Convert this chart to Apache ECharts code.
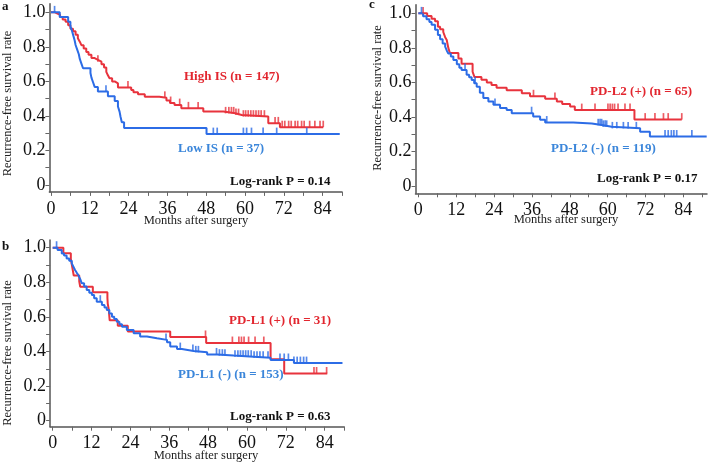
<!DOCTYPE html>
<html>
<head>
<meta charset="utf-8">
<script src="https://cdn.jsdelivr.net/npm/echarts@6/dist/echarts.min.js"></script>
<style>
  html, body { margin: 0; padding: 0; background: #fff; }
  #chart { width: 709px; height: 465px; }
</style>
</head>
<body>
<div id="chart"></div>
<script>
// Trục
const xTickVals = [0, 6, 12, 18, 24, 30, 36, 42, 48, 54, 60, 66, 72, 78, 84, 90];
const xLabelVals = [0, 12, 24, 36, 48, 60, 72, 84];
const yTickVals = [0, 0.1, 0.2, 0.3, 0.4, 0.5, 0.6, 0.7, 0.8, 0.9, 1.0];
const yLabelVals = [0, 0.2, 0.4, 0.6, 0.8, 1.0];

// Panel a: High IS / Low IS
const highIS_t = [0, 1.2, 2.0, 2.8, 3.6, 4.5, 5.3, 6.0, 6.8, 7.6, 8.3, 8.9, 9.4, 10.1, 10.9, 11.6, 12.5, 13.5, 14.5, 15.6, 16.4, 17.1, 17.6, 18.1, 18.9, 19.7, 20.7, 24.8, 25.5, 26.9, 29.0, 33.5, 35.7, 36.8, 38.2, 40.3, 47.1, 53.3, 57.0, 59.0, 67.2, 70.8, 84.2];
const highIS_s = [1, 0.993, 0.986, 0.973, 0.959, 0.945, 0.925, 0.905, 0.89, 0.87, 0.85, 0.83, 0.81, 0.79, 0.77, 0.755, 0.735, 0.725, 0.714, 0.70, 0.68, 0.655, 0.635, 0.618, 0.60, 0.589, 0.565, 0.55, 0.537, 0.525, 0.511, 0.505, 0.49, 0.475, 0.463, 0.444, 0.425, 0.415, 0.405, 0.396, 0.357, 0.335, 0.335];
const highIS_cens = [14.5, 23.8, 35.2, 37.0, 39.8, 42.5, 45.5, 54.0, 55.0, 55.8, 56.5, 57.2, 58.0, 59.5, 60.2, 61.0, 61.8, 62.6, 63.4, 64.2, 65.0, 66.0, 69.3, 70.3, 71.5, 72.3, 73.5, 74.3, 75.5, 76.3, 77.5, 78.3, 80.0, 81.6, 83.2, 84.2];
const lowIS_t = [0, 2.7, 5.3, 6.0, 6.5, 6.9, 7.3, 7.6, 8.1, 8.6, 8.9, 9.4, 9.9, 12.2, 12.5, 13.0, 13.5, 14.5, 17.6, 19.7, 20.7, 21.2, 21.5, 21.9, 22.6, 48.1, 89.3];
const lowIS_s = [1, 0.973, 0.946, 0.919, 0.892, 0.865, 0.838, 0.811, 0.784, 0.757, 0.73, 0.703, 0.676, 0.649, 0.622, 0.595, 0.568, 0.541, 0.514, 0.486, 0.455, 0.425, 0.395, 0.364, 0.33, 0.295, 0.295];
const lowIS_cens = [1.1, 17.0, 50.2, 51.4, 59.5, 60.5, 62.0, 65.6, 69.8, 79.1];

// Panel b: PD-L1 (+) / PD-L1 (-)
const pdl1Pos_t = [0, 3.3, 5.6, 5.9, 6.2, 6.5, 8.2, 8.5, 12.4, 16.9, 17.0, 17.3, 17.6, 20.1, 23.2, 36.3, 47.4, 67.3, 71.5, 84.8];
const pdl1Pos_s = [1, 0.968, 0.935, 0.903, 0.871, 0.839, 0.806, 0.774, 0.742, 0.71, 0.677, 0.645, 0.58, 0.548, 0.516, 0.484, 0.449, 0.355, 0.273, 0.273];
const pdl1Pos_cens = [47.2, 55.5, 57.5, 58.3, 59.1, 60.5, 62.5, 65.2, 80.7, 81.5, 84.6];
const pdl1Neg_t = [0, 1.5, 2.8, 3.5, 4.3, 5.1, 5.9, 6.4, 6.9, 7.4, 7.9, 8.5, 9.0, 9.7, 10.5, 11.3, 12.1, 12.8, 13.6, 15.2, 16.0, 16.7, 17.5, 18.3, 19.0, 19.8, 20.6, 21.4, 22.9, 25.0, 27.0, 29.1, 32.2, 35.3, 36.3, 38.4, 39.9, 43.5, 47.7, 50.8, 55.9, 62.1, 67.3, 74.5, 89.5];
const pdl1Neg_s = [1, 0.987, 0.967, 0.955, 0.938, 0.925, 0.909, 0.89, 0.871, 0.856, 0.842, 0.818, 0.794, 0.775, 0.755, 0.74, 0.726, 0.707, 0.688, 0.668, 0.654, 0.64, 0.62, 0.601, 0.587, 0.572, 0.557, 0.543, 0.524, 0.505, 0.486, 0.476, 0.467, 0.453, 0.428, 0.414, 0.403, 0.395, 0.383, 0.376, 0.37, 0.364, 0.351, 0.333, 0.333];
const pdl1Neg_cens = [1.2, 14.7, 35.0, 39.4, 43.3, 44.2, 45.0, 50.6, 51.5, 52.4, 53.2, 56.3, 57.2, 58.0, 58.8, 59.6, 60.4, 61.3, 62.2, 63.1, 64.0, 65.0, 66.5, 70.2, 71.5, 72.8, 74.5, 75.5, 76.5, 77.5, 78.4];

// Panel c: PD-L2 (+) / PD-L2 (-)
const pdl2Pos_t = [0, 2.8, 4.2, 5.3, 6.2, 6.9, 7.9, 8.5, 9.0, 9.5, 10.0, 12.7, 13.7, 17.2, 17.8, 20.0, 21.7, 23.2, 24.8, 28.0, 32.8, 35.4, 40.2, 43.9, 45.6, 48.1, 49.6, 68.5, 83.5];
const pdl2Pos_s = [1, 0.985, 0.969, 0.954, 0.923, 0.908, 0.892, 0.862, 0.846, 0.8, 0.77, 0.738, 0.708, 0.662, 0.631, 0.615, 0.6, 0.585, 0.569, 0.554, 0.538, 0.52, 0.505, 0.49, 0.475, 0.46, 0.44, 0.385, 0.385];
const pdl2Pos_cens = [1.5, 36.5, 43.3, 51.8, 56.0, 60.1, 60.8, 61.5, 62.2, 63.3, 65.5, 67.1, 71.9, 75.0, 77.7, 79.2, 83.5];
const pdl2Neg_t = [0, 1.5, 2.6, 3.5, 4.2, 5.3, 6.2, 6.9, 7.7, 8.5, 9.0, 9.5, 10.3, 11.1, 12.2, 13.0, 13.7, 15.3, 16.1, 16.9, 17.7, 18.5, 19.5, 20.6, 22.2, 23.8, 25.9, 28.0, 29.6, 36.4, 38.6, 40.2, 49.1, 55.0, 58.6, 61.3, 70.3, 73.4, 91.4];
const pdl2Neg_s = [1, 0.983, 0.966, 0.95, 0.934, 0.905, 0.875, 0.85, 0.825, 0.807, 0.785, 0.768, 0.75, 0.73, 0.705, 0.685, 0.672, 0.645, 0.63, 0.614, 0.595, 0.575, 0.54, 0.51, 0.49, 0.47, 0.452, 0.44, 0.422, 0.402, 0.384, 0.368, 0.362, 0.352, 0.343, 0.334, 0.315, 0.287, 0.287];
const pdl2Neg_cens = [1.0, 14.8, 18.0, 24.3, 35.9, 40.7, 57.0, 57.6, 58.1, 58.6, 59.2, 59.7, 61.5, 62.9, 65.0, 66.5, 69.1, 78.2, 79.2, 80.2, 81.0, 81.9, 86.7];

const RED = '#e8333d';
const BLUE = '#2c6ce6';
const RED_TEXT = '#e2262f';
const BLUE_TEXT = '#3b86da';
const SERIF = '"Liberation Serif", "Times New Roman", serif';

// Giá trị sống còn tại thời điểm t (hàm bậc thang)
function survAt(t, times, surv) {
    let v = surv[0];
    for (let i = 0; i < times.length; i++) {
        if (times[i] <= t) v = surv[i];
    }
    return v;
}

function kmSeries(idx, times, surv, cens, color) {
    return [{
        type: 'line',
        xAxisIndex: idx,
        yAxisIndex: idx,
        step: 'end',
        symbol: 'none',
        lineStyle: { color: color, width: 2 },
        data: times.map((t, i) => [t, surv[i]]),
        z: 3
    }, {
        type: 'scatter',
        xAxisIndex: idx,
        yAxisIndex: idx,
        symbol: 'rect',
        symbolSize: [1.7, 6.5],
        symbolOffset: [0, -3.2],
        itemStyle: { color: color },
        data: cens.map(t => [t, survAt(t, times, surv)]),
        z: 4
    }];
}

function makeX(idx, min, max) {
    return {
        type: 'value', gridIndex: idx, min: min, max: max,
        axisLine: { show: true, onZero: false, lineStyle: { color: '#555', width: 1.5 } },
        axisTick: { show: true, length: 4, customValues: xTickVals, lineStyle: { color: '#666' } },
        axisLabel: {
            customValues: xLabelVals, margin: 8, color: '#111',
            fontFamily: SERIF, fontSize: 18
        },
        splitLine: { show: false }
    };
}

function makeY(idx, min, max) {
    return {
        type: 'value', gridIndex: idx, min: min, max: max,
        axisLine: { show: true, onZero: false, lineStyle: { color: '#555', width: 1.5 } },
        axisTick: { show: true, length: 4, customValues: yTickVals, lineStyle: { color: '#666' } },
        axisLabel: {
            customValues: yLabelVals, margin: 4, color: '#111',
            fontFamily: SERIF, fontSize: 18,
            formatter: v => (v === 0 ? '0' : v.toFixed(1))
        },
        splitLine: { show: false }
    };
}

function txt(x, y, text, color, opts) {
    return Object.assign({
        type: 'text', x: x, y: y,
        style: {
            text: text, fill: color,
            font: 'bold 13px ' + SERIF,
            align: 'left', verticalAlign: 'middle'
        }
    }, opts || {});
}

function plain(x, y, text, rotate) {
    return {
        type: 'text', x: x, y: y, rotation: rotate ? Math.PI / 2 : 0,
        style: {
            text: text, fill: '#222',
            font: '12.5px ' + SERIF,
            align: 'center', verticalAlign: 'middle'
        }
    };
}

const chart = echarts.init(document.getElementById('chart'), null, { renderer: 'canvas' });
chart.setOption({
    backgroundColor: '#fff',
    animation: false,
    grid: [
        { left: 49.4, top: 3.7, width: 292.6, height: 188.2 },
        { left: 50.1, top: 239.9, width: 294.0, height: 186.8 },
        { left: 415.5, top: 4.7, width: 291.5, height: 188.6 }
    ],
    xAxis: [makeX(0, -0.5, 90), makeX(1, -0.8, 90), makeX(2, -0.9, 91.5)],
    yAxis: [makeY(0, -0.04, 1.05), makeY(1, -0.035, 1.045), makeY(2, -0.042, 1.05)],
    series: [].concat(
        kmSeries(0, highIS_t, highIS_s, highIS_cens, RED),
        kmSeries(0, lowIS_t, lowIS_s, lowIS_cens, BLUE),
        kmSeries(1, pdl1Pos_t, pdl1Pos_s, pdl1Pos_cens, RED),
        kmSeries(1, pdl1Neg_t, pdl1Neg_s, pdl1Neg_cens, BLUE),
        kmSeries(2, pdl2Pos_t, pdl2Pos_s, pdl2Pos_cens, RED),
        kmSeries(2, pdl2Neg_t, pdl2Neg_s, pdl2Neg_cens, BLUE)
    ),
    graphic: [
        // nhãn panel
        txt(2, 7, 'a', '#111'),
        txt(2, 247, 'b', '#111'),
        txt(369, 5, 'c', '#111'),
        // panel a
        txt(184, 77, 'High IS (n = 147)', RED_TEXT),
        txt(178, 149, 'Low IS (n = 37)', BLUE_TEXT),
        txt(230, 182, 'Log-rank P = 0.14', '#111'),
        // panel b
        txt(229, 321, 'PD-L1 (+) (n = 31)', RED_TEXT),
        txt(178, 375, 'PD-L1 (-) (n = 153)', BLUE_TEXT),
        txt(230, 416.7, 'Log-rank P = 0.63', '#111'),
        // panel c
        txt(590, 91.7, 'PD-L2 (+) (n = 65)', RED_TEXT),
        txt(551, 148.3, 'PD-L2 (-) (n = 119)', BLUE_TEXT),
        txt(597, 178.3, 'Log-rank P = 0.17', '#111'),
        // tiêu đề trục
        plain(8, 103.5, 'Recurrence-free survival rate', true),
        plain(8, 353, 'Recurrence-free survival rate', true),
        plain(378, 98, 'Recurrence-free survival rate', true),
        plain(196, 221, 'Months after surgery'),
        plain(206, 456, 'Months after surgery'),
        plain(566, 220, 'Months after surgery')
    ]
});
</script>
</body>
</html>
